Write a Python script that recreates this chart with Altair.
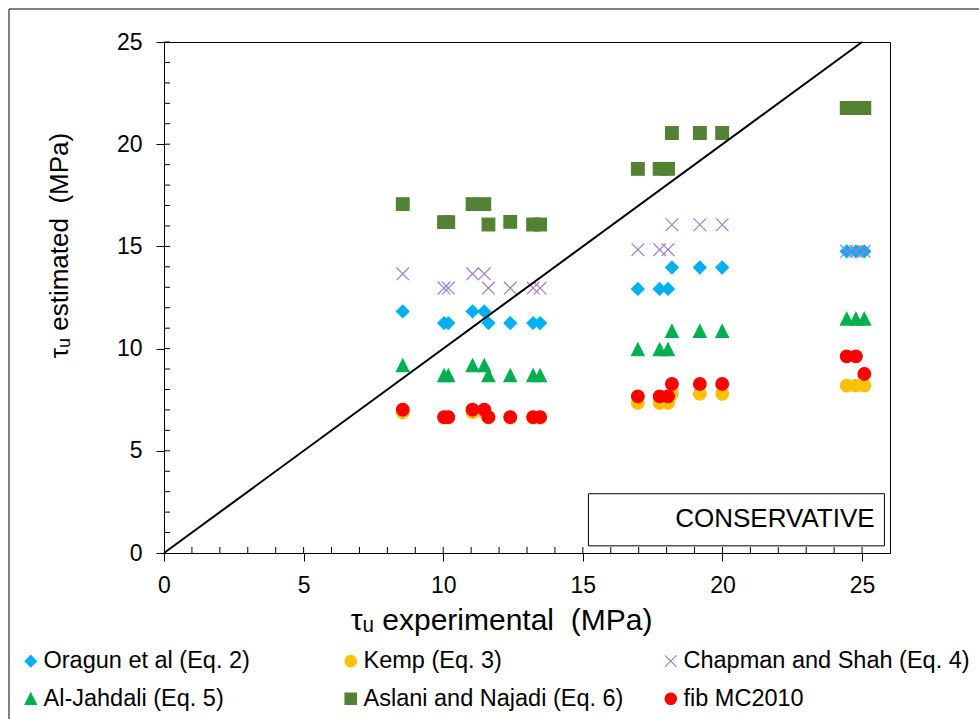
import altair as alt
import pandas as pd

# ---------------- data ----------------
series_names = [
    "Oragun et al (Eq. 2)",
    "Kemp (Eq. 3)",
    "Chapman and Shah (Eq. 4)",
    "Al-Jahdali (Eq. 5)",
    "Aslani and Najadi (Eq. 6)",
    "fib MC2010",
]
series_colors = ["#00B0F0", "#FFC000", "#A07CC8", "#00B050", "#548235", "#FF0000"]
series_shapes = [
    "diamond",
    "circle",
    "M-1,-1L1,1M1,-1L-1,1",
    "M0,-1L1,1L-1,1Z",
    "square",
    "circle",
]

tau_exp = [8.55, 10.03, 10.18, 11.05, 11.47, 11.62, 12.40, 13.22, 13.47,
           16.97, 17.75, 18.05, 18.19, 19.19, 19.99, 24.45, 24.78, 25.08]

oragun = [11.82, 11.25, 11.25, 11.82, 11.82, 11.25, 11.25, 11.25, 11.25,
          12.92, 12.92, 12.92, 13.97, 13.97, 13.97, 14.76, 14.76, 14.76]
kemp = [6.88, 6.62, 6.62, 6.88, 6.88, 6.62, 6.62, 6.62, 6.62,
        7.34, 7.34, 7.34, 7.79, 7.79, 7.79, 8.19, 8.19, 8.19]
chapman = [13.66, 12.96, 12.96, 13.66, 13.66, 12.96, 12.96, 12.96, 12.96,
           14.84, 14.84, 14.84, 16.06, 16.06, 16.06, 14.76, 14.76, 14.76]
aljahdali = [9.18, 8.69, 8.69, 9.18, 9.18, 8.69, 8.69, 8.69, 8.69,
             9.96, 9.96, 9.96, 10.86, 10.86, 10.86, 11.46, 11.46, 11.46]
aslani = [17.07, 16.19, 16.19, 17.07, 17.07, 16.07, 16.20, 16.07, 16.07,
          18.79, 18.79, 18.79, 20.55, 20.55, 20.55, 21.77, 21.77, 21.77]
fib = [7.01, 6.65, 6.65, 7.01, 7.01, 6.65, 6.65, 6.65, 6.65,
       7.66, 7.66, 7.66, 8.27, 8.27, 8.27, 9.62, 9.62, 8.76]

series_values = [oragun, kemp, chapman, aljahdali, aslani, fib]

line_x = [0, 25]
line_y = [0, 25]

x_ticks = [0, 5, 10, 15, 20, 25]
y_ticks = [0, 5, 10, 15, 20, 25]
minor_ticks = list(range(1, 26))

note_text = ["CONSERVATIVE"]
note_x, note_y = [25.45], [1.68]
box_x, box_x2, box_y, box_y2 = [15.2], [25.8], [0.35], [2.9]

x_title = "τᵤ experimental\u00a0\u00a0(MPa)"
y_title = "τᵤ estimated\u00a0\u00a0(MPa)"

# ---------------- tables ----------------
rows = []
for name, vals in zip(series_names, series_values):
    for xv, yv in zip(tau_exp, vals):
        rows.append({"series": name, "x": xv, "y": yv})
df_pts = pd.DataFrame(rows)
df_pts["idx"] = range(len(df_pts))
df_line = pd.DataFrame({"x": line_x, "y": line_y})
df_minor = pd.DataFrame({"x": minor_ticks, "y": minor_ticks})
df_note = pd.DataFrame({"x": note_x, "y": note_y, "label": note_text})
df_box = pd.DataFrame({"x": box_x, "x2": box_x2, "y": box_y, "y2": box_y2})
df_one = pd.DataFrame({"a": [0]})

FONT = "Liberation Sans"
W, H = 726, 511

xscale = alt.Scale(domain=[0, 26], nice=False, zero=False)
yscale = alt.Scale(domain=[0, 25], nice=False, zero=False)

x_axis = alt.Axis(
    values=x_ticks, format="d", grid=False, tickSize=8, labelPadding=13,
    labelFlush=False,
    labelFontSize=23, labelFont=FONT, labelColor="black",
    tickColor="black", domainColor="black",
    title=x_title, titleFont=FONT, titleFontSize=30,
    titleFontWeight="normal", titleColor="black",
    titleX=337, titleY=67, titleBaseline="middle", titleAlign="center",
)
y_axis = alt.Axis(
    values=y_ticks, format="d", grid=False, tickSize=8, labelPadding=14,
    labelFlush=False,
    labelFontSize=23, labelFont=FONT, labelColor="black",
    tickColor="black", domainColor="black",
    title=y_title, titleFont=FONT, titleFontSize=26,
    titleFontWeight="normal", titleColor="black",
    titleX=-105, titleY=203, titleBaseline="middle", titleAlign="center",
    titleAngle=270,
)

legend = alt.Legend(
    title=None, orient="none", legendX=-145, legendY=607,
    direction="horizontal", columns=3, columnPadding=9, rowPadding=13,
    gridAlign="all",
    labelFont=FONT, labelFontSize=23.5, labelColor="black", labelOffset=1,
    symbolSize=130, symbolStrokeWidth=1.2, labelLimit=400,
)

color_scale = alt.Scale(domain=series_names, range=series_colors)
shape_scale = alt.Scale(domain=series_names, range=series_shapes)


def X():
    return alt.X("x:Q", scale=xscale, axis=x_axis)


def Y():
    return alt.Y("y:Q", scale=yscale, axis=y_axis)


points = alt.Chart(df_pts).mark_point(filled=True, size=160, strokeWidth=1.2, opacity=1).encode(
    x=X(),
    y=Y(),
    color=alt.Color("series:N", scale=color_scale, legend=legend, sort=series_names),
    stroke=alt.Stroke("series:N", scale=color_scale, legend=legend, sort=series_names),
    shape=alt.Shape("series:N", scale=shape_scale, legend=legend, sort=series_names),
    order=alt.Order("idx:Q"),
)

diag = alt.Chart(df_line).mark_line(color="black", strokeWidth=2).encode(x=X(), y=Y())

box = alt.Chart(df_box).mark_rect(fill="white", stroke="black", strokeWidth=1).encode(
    x=X(), x2="x2:Q", y=Y(), y2="y2:Q",
)

note = alt.Chart(df_note).mark_text(
    align="right", baseline="middle", fontSize=26, font=FONT, color="black"
).encode(x=X(), y=Y(), text="label:N")

xminor = alt.Chart(df_minor).mark_rule(color="black", strokeWidth=1).encode(
    x=X(), y=alt.value(H), y2=alt.value(H - 6),
)
yminor = alt.Chart(df_minor).mark_rule(color="black", strokeWidth=1).encode(
    y=Y(), x=alt.value(0), x2=alt.value(6),
)

border = alt.Chart(df_one).mark_rect(fill="transparent", stroke="black", strokeWidth=1).encode(
    x=alt.value(-155), x2=alt.value(W + 200),
    y=alt.value(-33), y2=alt.value(H + 300),
)

chart = alt.layer(border, points, diag, xminor, yminor, box, note).properties(
    width=W, height=H,
    background="white",
    padding={"left": 164, "top": 42, "right": 89, "bottom": 166},
    autosize=alt.AutoSizeParams(type="none"),
).configure_view(stroke="black", strokeWidth=1)

chart.save("out.html", embed_options={"renderer": "svg", "actions": False})
